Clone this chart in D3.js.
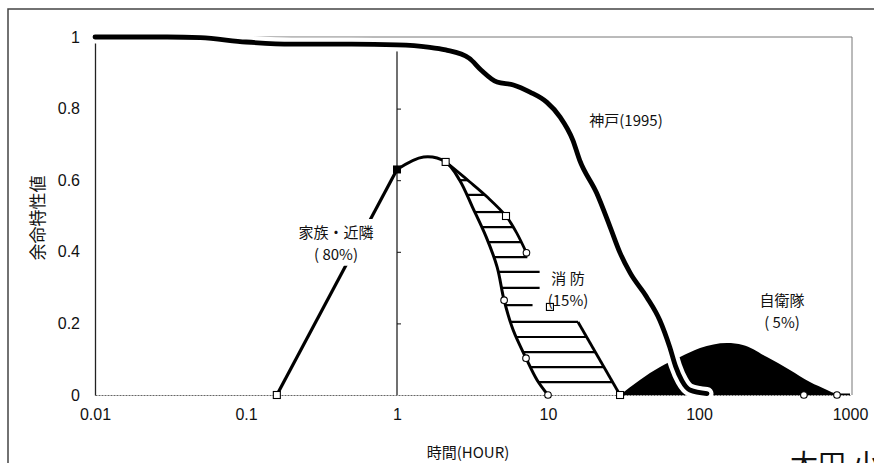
<!DOCTYPE html>
<html><head><meta charset="utf-8">
<script src="https://cdn.jsdelivr.net/npm/d3@7"></script>
<style>body{margin:0;background:#fff}</style>
</head><body><svg id="c" width="874" height="463"></svg>
<script>
const xTicks=[0.01,0.1,1,10,100,1000];
const xTickLabels=["0.01","0.1","1","10","100","1000"];
const yTicks=[0,0.2,0.4,0.6,0.8,1];
const yTickLabels=["0","0.2","0.4","0.6","0.8","1"];
const kobe=[[0.01,1.0],[0.03,1.0],[0.05,0.998],[0.1,0.986],[0.2,0.98],[0.5,0.98],[1,0.978],[1.6,0.972],[2.1,0.964],[3.0,0.941],[3.6,0.908],[4.6,0.874],[5.9,0.866],[7.6,0.846],[9.8,0.818],[12,0.777],[14.6,0.712],[16.2,0.656],[21,0.564],[25.8,0.469],[30,0.397],[35,0.341],[45,0.274],[55,0.209],[64,0.134],[70,0.08],[77,0.04],[87,0.014],[113,0.004]];
const familyRise=[[0.16,0],[1,0.63]];
const familyFall=[[1,0.63],[1.5,0.665],[2.1,0.651],[2.6,0.60],[3.16,0.525],[3.9,0.441],[4.6,0.358],[5.12,0.265],[5.87,0.182],[7.15,0.103],[8.46,0.042],[10,0]];
const fireUpper=[[2.1,0.651],[3.04,0.595],[3.96,0.553],[5.27,0.5],[6.2,0.453],[7.2,0.397]];
const fireLower=[[15.8,0.204],[30,0]];
const hatchLevels=[0.60,0.559,0.511,0.469,0.427,0.385,0.344,0.299,0.251,0.204,0.162,0.120,0.078,0.036];
const hatchUnderLabelEnd=[[0.385,7.3],[0.344,8.8],[0.299,8.8],[0.251,7.9]];
const sdf=[[30,0],[40.6,0.042],[55.2,0.078],[74.9,0.106],[101.6,0.131],[153,0.145],[195,0.140],[282,0.106],[400,0.070],[543,0.036],[705,0.014],[775,0.006],[820,0.004],[1000,0.004]];
const openSquares=[[0.16,0],[2.1,0.651],[5.27,0.5],[30,0],[0.527,0.419],[10.3,0.246]];
const filledSquares=[[1,0.63]];
const openCircles=[[7.2,0.397],[5.12,0.265],[7.15,0.103],[10,0],[495,0],[820,0]];

const svg=d3.select("#c");
const x=d3.scaleLog().domain([0.01,1000]).range([95,850]);
const y=d3.scaleLinear().domain([0,1]).range([395,37]);
const NUM="'Liberation Sans',Arial,sans-serif";
const CJK="'Noto Sans CJK JP','Noto Sans CJK SC',sans-serif";

svg.append("rect").attr("width",874).attr("height",463).attr("fill","#fff");
// outer frame
svg.append("path").attr("d","M8,463V9H874").attr("fill","none").attr("stroke","#444").attr("stroke-width",1.5);

// plot frame
svg.append("path").attr("d",`M${x(0.01)},${y(1)}H${x(1000)+2}V${y(0)}`).attr("fill","none").attr("stroke","#777").attr("stroke-width",1);
// x axis
const gx=svg.append("g").attr("transform",`translate(0,${y(0)})`)
 .call(d3.axisBottom(x).tickValues(xTicks).tickSize(0).tickFormat((d,i)=>xTickLabels[i]));
gx.select(".domain").attr("stroke","#666").attr("stroke-dasharray","2,1");
gx.selectAll("text").attr("font-family",NUM).attr("font-size",16).attr("fill","#111").attr("dy","1.35em");
// y axis
const gy=svg.append("g").attr("transform",`translate(${x(0.01)},0)`)
 .call(d3.axisLeft(y).tickValues(yTicks).tickSize(0).tickPadding(15).tickFormat((d,i)=>yTickLabels[i]));
gy.select(".domain").attr("stroke","#222").attr("stroke-width",1.3);
gy.selectAll("text").attr("font-family",NUM).attr("font-size",16).attr("fill","#111");
// vertical reference line at 1 hour with ticks
const g1=svg.append("g").attr("transform",`translate(${x(1)},0)`)
 .call(d3.axisLeft(y).tickValues(yTicks.slice(1,5)).tickSize(-4).tickFormat(""));
g1.select(".domain").remove();
g1.append("line").attr("y1",y(0.96)).attr("y2",y(0)).attr("stroke","#111").attr("stroke-width",1.2);
g1.selectAll(".tick line").attr("stroke","#111");

// axis titles
svg.append("text").attr("x",468).attr("y",458).attr("text-anchor","middle")
 .attr("font-family",CJK).attr("font-size",15).attr("fill","#111").text("時間(HOUR)");
svg.append("text").attr("transform","translate(44,218) rotate(-90)").attr("text-anchor","middle")
 .attr("font-family",CJK).attr("font-size",17).attr("fill","#111").text("余命特性値");

// interpolation helpers
function interpT(pts,v){
  for(let i=0;i<pts.length-1;i++){
    const a=pts[i],b=pts[i+1];
    if((v-a[1])*(v-b[1])<=0 && a[1]!==b[1]){
      const f=(v-a[1])/(b[1]-a[1]);
      return Math.exp(Math.log(a[0])+f*(Math.log(b[0])-Math.log(a[0])));
    }
  }
  return null;
}
const fallDesc=familyFall.slice(2);
const underMap=new Map(hatchUnderLabelEnd);
const hatches=hatchLevels.map(v=>{
  const l=interpT(fallDesc,v);
  let r=underMap.has(v)?underMap.get(v):(v>=0.397?interpT(fireUpper,v):interpT(fireLower,v));
  return {v,l,r};
});
svg.append("g").selectAll("line").data(hatches).join("line")
 .attr("x1",d=>x(d.l)).attr("x2",d=>x(d.r)).attr("y1",d=>y(d.v)).attr("y2",d=>y(d.v))
 .attr("stroke","#000").attr("stroke-width",2.2);

// SDF area
svg.append("path").datum(sdf).attr("fill","#000")
 .attr("d",d3.area().x(d=>x(d[0])).y0(y(0)).y1(d=>y(d[1])).curve(d3.curveMonotoneX));

// Kobe
const kLine=d3.line().x(d=>x(d[0])).y(d=>y(d[1])).curve(d3.curveMonotoneX);
svg.append("path").datum(kobe).attr("d",kLine).attr("fill","none").attr("stroke","#fff").attr("stroke-width",13).attr("stroke-linecap","round");
svg.append("path").datum(kobe).attr("d",kLine).attr("fill","none").attr("stroke","#000").attr("stroke-width",4.8).attr("stroke-linecap","round");

// family
const lin=d3.line().x(d=>x(d[0])).y(d=>y(d[1]));
const crv=d3.line().x(d=>x(d[0])).y(d=>y(d[1])).curve(d3.curveCatmullRom);
svg.append("path").datum(familyRise).attr("d",lin).attr("fill","none").attr("stroke","#000").attr("stroke-width",3.2);
svg.append("path").datum(familyFall).attr("d",crv).attr("fill","none").attr("stroke","#000").attr("stroke-width",3);
svg.append("path").datum(fireUpper).attr("d",crv).attr("fill","none").attr("stroke","#000").attr("stroke-width",2.8);
svg.append("path").datum(fireLower).attr("d",lin).attr("fill","none").attr("stroke","#000").attr("stroke-width",2.8);

// markers
svg.append("g").selectAll("rect").data(openSquares).join("rect")
 .attr("x",d=>x(d[0])-3.5).attr("y",d=>y(d[1])-3.5).attr("width",7).attr("height",7)
 .attr("fill","#fff").attr("stroke","#000").attr("stroke-width",1.1);
svg.append("g").selectAll("rect").data(filledSquares).join("rect")
 .attr("x",d=>x(d[0])-4).attr("y",d=>y(d[1])-4).attr("width",8).attr("height",8).attr("fill","#000");
svg.append("g").selectAll("circle").data(openCircles).join("circle")
 .attr("cx",d=>x(d[0])).attr("cy",d=>y(d[1])).attr("r",3.3)
 .attr("fill","#fff").attr("stroke","#000").attr("stroke-width",1.1);

// labels
function label(lines,cx,cy,size,bg){
  const g=svg.append("g");
  const t=g.append("text").attr("text-anchor","middle").attr("font-family",CJK).attr("font-size",size).attr("fill","#111");
  lines.forEach((s,i)=>t.append("tspan").attr("x",cx).attr("y",cy+i*size*1.45).text(s));
  if(bg){const b=t.node().getBBox();g.insert("rect","text").attr("x",b.x-2).attr("y",b.y-2).attr("width",b.width+4).attr("height",b.height+4).attr("fill","#fff");}
}
label(["神戸(1995)"],626,126,15,false);
label(["家族・近隣","( 80%)"],336,238,15,true);
label(["消 防","(15%)"],568,284,15,false);
label(["自衛隊","( 5%)"],782,306,15,false);

svg.append("text").attr("x",790).attr("y",475).attr("font-family",CJK).attr("font-size",28).attr("fill","#111").text("太田 小");
</script></body></html>
